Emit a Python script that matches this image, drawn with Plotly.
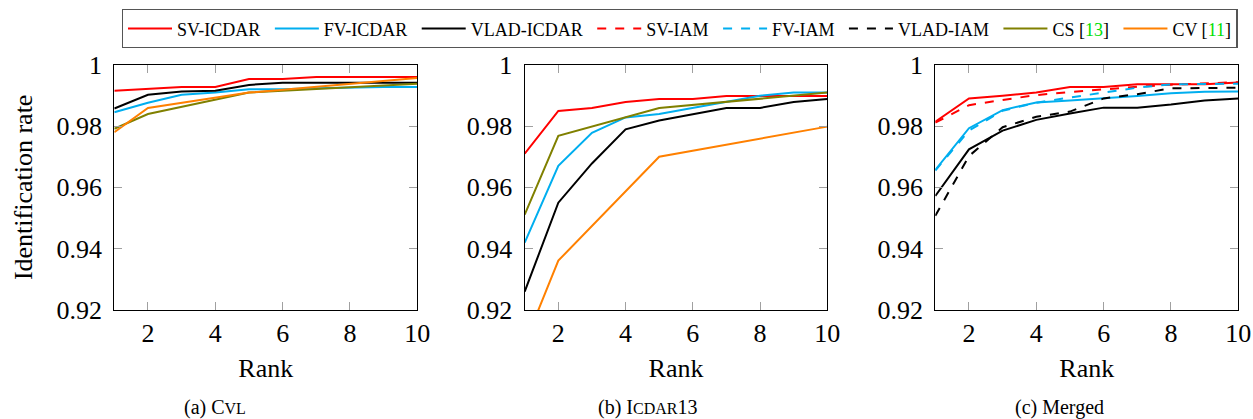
import plotly.graph_objects as go

# ---------------- data ----------------
rank = [1, 2, 3, 4, 5, 6, 7, 8, 9, 10]
rank_prior = [1, 2, 5, 10]

cvl_sv = [0.9915, 0.9920, 0.9927, 0.9927, 0.9953, 0.9953, 0.9960, 0.9960, 0.9960, 0.9960]
cvl_fv = [0.9845, 0.9876, 0.9902, 0.9909, 0.9920, 0.9920, 0.9923, 0.9926, 0.9927, 0.9927]
cvl_vlad = [0.9857, 0.9902, 0.9913, 0.9915, 0.9934, 0.9941, 0.9941, 0.9941, 0.9941, 0.9941]
cvl_cs = [0.9791, 0.9839, 0.9909, 0.9938]
cvl_cv = [0.9780, 0.9859, 0.9909, 0.9957]

icdar_sv = [0.9710, 0.9849, 0.9859, 0.9878, 0.9888, 0.9888, 0.9898, 0.9898, 0.9898, 0.9898]
icdar_fv = [0.9420, 0.9670, 0.9778, 0.9828, 0.9839, 0.9859, 0.9878, 0.9899, 0.9909, 0.9909]
icdar_vlad = [0.9260, 0.9550, 0.9678, 0.9789, 0.9818, 0.9839, 0.9859, 0.9859, 0.9878, 0.9888]
icdar_cs = [0.9511, 0.9768, 0.9859, 0.9909]
icdar_cv = [0.9090, 0.9361, 0.9700, 0.9798]

merged_sv_icdar = [0.9814, 0.9890, 0.9899, 0.9909, 0.9927, 0.9927, 0.9936, 0.9936, 0.9936, 0.9942]
merged_fv_icdar = [0.9657, 0.9793, 0.9852, 0.9877, 0.9883, 0.9890, 0.9898, 0.9907, 0.9912, 0.9913]
merged_vlad_icdar = [0.9572, 0.9724, 0.9785, 0.9820, 0.9841, 0.9860, 0.9860, 0.9870, 0.9883, 0.9890]
merged_sv_iam = [0.9811, 0.9868, 0.9885, 0.9901, 0.9911, 0.9920, 0.9928, 0.9935, 0.9939, 0.9943]
merged_fv_iam = [0.9655, 0.9785, 0.9850, 0.9876, 0.9893, 0.9909, 0.9925, 0.9936, 0.9937, 0.9938]
merged_vlad_iam = [0.9507, 0.9702, 0.9796, 0.9830, 0.9847, 0.9890, 0.9904, 0.9923, 0.9924, 0.9925]

x_ticks = [2, 4, 6, 8, 10]
y_ticks = [0.92, 0.94, 0.96, 0.98, 1.0]
y_ticktext = ["0.92", "0.94", "0.96", "0.98", "1"]

series_names = ["SV-ICDAR", "FV-ICDAR", "VLAD-ICDAR", "SV-IAM", "FV-IAM", "VLAD-IAM",
                "CS [<span style='color:#00e000'>13</span>]",
                "CV [<span style='color:#00e000'>11</span>]"]
captions = ["(a) C<span style='font-size:16px'>VL</span>",
            "(b) I<span style='font-size:16px'>CDAR</span>13",
            "(c) Merged"]

# ---------------- style ----------------
RED = "#ff0000"
CYAN = "#00aeef"
BLACK = "#000000"
OLIVE = "#808000"
ORANGE = "#ff8000"
FONT = "Liberation Serif"
LW = 2

W, H = 1253, 419
panels_px = [(114.3, 417.3), (524.7, 827.3), (935.3, 1238.3)]
y_top, y_bot = 64.7, 310.0

fig = go.Figure()

styles = {
    0: (RED, "solid"), 1: (CYAN, "solid"), 2: (BLACK, "solid"),
    3: (RED, "dash"), 4: (CYAN, "dash"), 5: (BLACK, "dash"),
    6: (OLIVE, "solid"), 7: (ORANGE, "solid"),
}

shown = set()


def add(panel, idx, xs, ys):
    color, dash = styles[idx]
    sl = idx not in shown
    shown.add(idx)
    name = series_names[idx] + ("\u00a0" if idx < 7 else "")
    fig.add_trace(go.Scatter(
        x=xs, y=ys, mode="lines", name=name,
        line=dict(color=color, width=LW, dash=dash),
        xaxis="x" if panel == 0 else f"x{panel+1}",
        yaxis="y" if panel == 0 else f"y{panel+1}",
        showlegend=sl, legendrank=idx + 1,
    ))


# panel a
add(0, 0, rank, cvl_sv)
add(0, 1, rank, cvl_fv)
add(0, 2, rank, cvl_vlad)
add(0, 6, rank_prior, cvl_cs)
add(0, 7, rank_prior, cvl_cv)
# panel b
add(1, 0, rank, icdar_sv)
add(1, 1, rank, icdar_fv)
add(1, 2, rank, icdar_vlad)
add(1, 6, rank_prior, icdar_cs)
add(1, 7, rank_prior, icdar_cv)
# panel c
add(2, 0, rank, merged_sv_icdar)
add(2, 1, rank, merged_fv_icdar)
add(2, 2, rank, merged_vlad_icdar)
add(2, 3, rank, merged_sv_iam)
add(2, 4, rank, merged_fv_iam)
add(2, 5, rank, merged_vlad_iam)

tickfont = dict(family=FONT, size=26, color="black")

layout = dict(
    width=W, height=H,
    margin=dict(l=0, r=0, t=0, b=0, autoexpand=False),
    paper_bgcolor="white", plot_bgcolor="white",
    font=dict(family=FONT, size=25, color="black"),
    legend=dict(
        orientation="h", x=121.7 / W, y=1 - 9 / H, xanchor="left", yanchor="top",
        bordercolor="#555555", borderwidth=1.3,
        font=dict(family=FONT, size=18, color="black"),
        itemwidth=44, tracegroupgap=0, bgcolor="white",
    ),
    showlegend=True,
)

ydom = [1 - y_bot / H, 1 - y_top / H]
for i, (x0, x1) in enumerate(panels_px):
    xa = "xaxis" if i == 0 else f"xaxis{i+1}"
    ya = "yaxis" if i == 0 else f"yaxis{i+1}"
    xref = "x" if i == 0 else f"x{i+1}"
    yref = "y" if i == 0 else f"y{i+1}"
    layout[xa] = dict(
        domain=[x0 / W, x1 / W], range=[1, 10], anchor=yref,
        tickvals=x_ticks, ticks="inside", ticklen=8, tickcolor="#a0a0a0", tickwidth=1,
        showline=True, linecolor="black", linewidth=1.3, mirror="ticks",
        showgrid=False, zeroline=False, ticklabelstandoff=0, tickfont=tickfont,
        title=dict(text="Rank", standoff=11, font=tickfont),
    )
    layout[ya] = dict(
        domain=ydom, range=[0.92, 1.0], anchor=xref,
        tickvals=y_ticks, ticktext=y_ticktext, ticks="inside", ticklen=8,
        tickcolor="#a0a0a0", tickwidth=1, tickfont=tickfont,
        showline=True, linecolor="black", linewidth=1.3, mirror="ticks",
        showgrid=False, zeroline=False, ticklabelstandoff=6,
    )
    if i == 0:
        layout[ya]["title"] = dict(text="Identification rate", standoff=16, font=tickfont)

fig.update_layout(**layout)

cap_x = [215, 647, 1059]
for cx, txt in zip(cap_x, captions):
    fig.add_annotation(text=txt, x=cx / W, y=1 - 407 / H, xref="paper", yref="paper",
                       xanchor="center", yanchor="middle", showarrow=False,
                       font=dict(size=20, family=FONT, color="black"))

fig.write_html("out.html", config={"displayModeBar": False},
               post_script="document.body.style.margin='0';document.body.style.overflow='hidden';")
